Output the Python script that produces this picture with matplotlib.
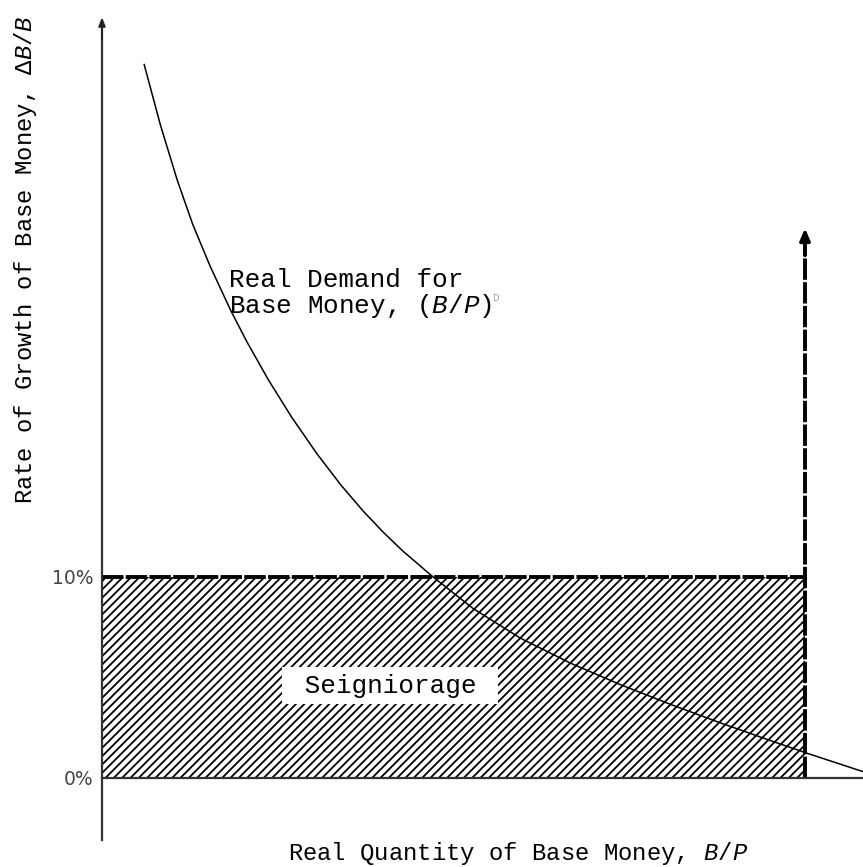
import matplotlib
matplotlib.use("Agg")
import matplotlib.pyplot as plt
from matplotlib.patches import Rectangle

# ---- data ----
demand_x = [0.60, 0.83, 1.07, 1.29, 1.54, 1.83, 2.06, 2.37, 2.70, 3.06,
            3.40, 3.71, 4.00, 4.28, 4.71, 5.28, 5.95, 6.66, 7.37, 8.08,
            8.79, 9.50, 10.03, 10.83]
demand_y = [35.5, 32.5, 29.75, 27.55, 25.45, 23.27, 21.71, 19.79, 17.94, 16.12,
            14.57, 13.3, 12.23, 11.29, 10.0, 8.43, 6.96, 5.72, 4.65, 3.67,
            2.75, 1.87, 1.23, 0.31]
money_growth = 10.0      # % growth rate of base money
real_quantity = 10.0     # real base money held
ytick_vals = [0, 10]
ytick_labels = ["0%", "10%"]

plt.rcParams['mathtext.fontset'] = 'custom'
plt.rcParams['mathtext.it'] = 'Liberation Mono:italic'
plt.rcParams['mathtext.rm'] = 'Liberation Mono'
plt.rcParams['hatch.linewidth'] = 1.3

MONO = 'Liberation Mono'
FS_ANN = 18.7
FS_LAB = 17.2

fig = plt.figure(figsize=(8.63, 8.67), dpi=100)
ax = fig.add_axes([0, 0, 1, 1])
ax.set_xlim(-1.451, 10.825)
ax.set_ylim(-4.43, 38.71)

for s in ['top', 'right']:
    ax.spines[s].set_visible(False)
ax.spines['left'].set_position(('data', 0))
ax.spines['bottom'].set_position(('data', 0))
ax.spines['left'].set_bounds(-3.1, 37.6)
ax.spines['bottom'].set_bounds(0, 10.83)
for s in ['left', 'bottom']:
    ax.spines[s].set_color('#333333')
    ax.spines[s].set_linewidth(1.6)

ax.set_xticks([])
ax.set_yticks(ytick_vals)
ax.set_yticklabels(ytick_labels, fontsize=13.5, color='#444444', family='DejaVu Sans')
ax.tick_params(axis='y', length=0, pad=6)

# axis top arrow
ax.annotate('', xy=(0, 37.85), xytext=(0, 36.8),
            arrowprops=dict(arrowstyle='-|>,head_length=0.5,head_width=0.2',
                            lw=1.4, color='#222222', shrinkA=0, shrinkB=0))

# seigniorage rectangle (hatched)
rect = Rectangle((0, 0), real_quantity, money_growth, facecolor='white',
                 edgecolor='black', hatch='////', linewidth=0)
ax.add_patch(rect)

# dashed top edge and vertical line
ax.plot([0, real_quantity], [money_growth, money_growth], color='black',
        lw=2.8, dashes=(5.5, 0.6))
ax.plot([real_quantity, real_quantity], [0, 26.6], color='black',
        lw=2.8, dashes=(5.5, 0.6))
ax.annotate('', xy=(real_quantity, 27.35), xytext=(real_quantity, 26.0),
            arrowprops=dict(arrowstyle='-|>,head_length=0.7,head_width=0.3',
                            lw=2.5, color='black', shrinkA=0, shrinkB=0))

# demand curve
ax.plot(demand_x, demand_y, color='black', lw=1.1)

# texts
ax.text(1.80, 24.43, 'Real Demand for', family=MONO, fontsize=FS_ANN,
        ha='left', va='baseline')
ax.text(1.80, 23.13, 'Base Money, ($B/P$)', family=MONO, fontsize=FS_ANN,
        ha='left', va='baseline')
ax.text(5.60, 23.85, 'D', family='DejaVu Sans', fontsize=6, color='#999999',
        ha='center', va='center')

ax.text(4.10, 4.6, ' Seigniorage ', family=MONO, fontsize=FS_ANN, ha='center',
        va='center',
        bbox=dict(boxstyle='square,pad=0.25', facecolor='white', edgecolor='none'))

ax.set_xlabel('Real Quantity of Base Money, $B/P$', family=MONO, fontsize=FS_LAB)
ax.xaxis.set_label_coords(0.600, 0.016)
ax.xaxis.label.set_va('center')
ax.set_ylabel(r'Rate of Growth of Base Money, $\Delta B/B$', family=MONO, fontsize=FS_LAB)
ax.yaxis.set_label_coords(0.029, 0.700)
ax.yaxis.label.set_va('center')

fig.savefig('out.png', dpi=100)
